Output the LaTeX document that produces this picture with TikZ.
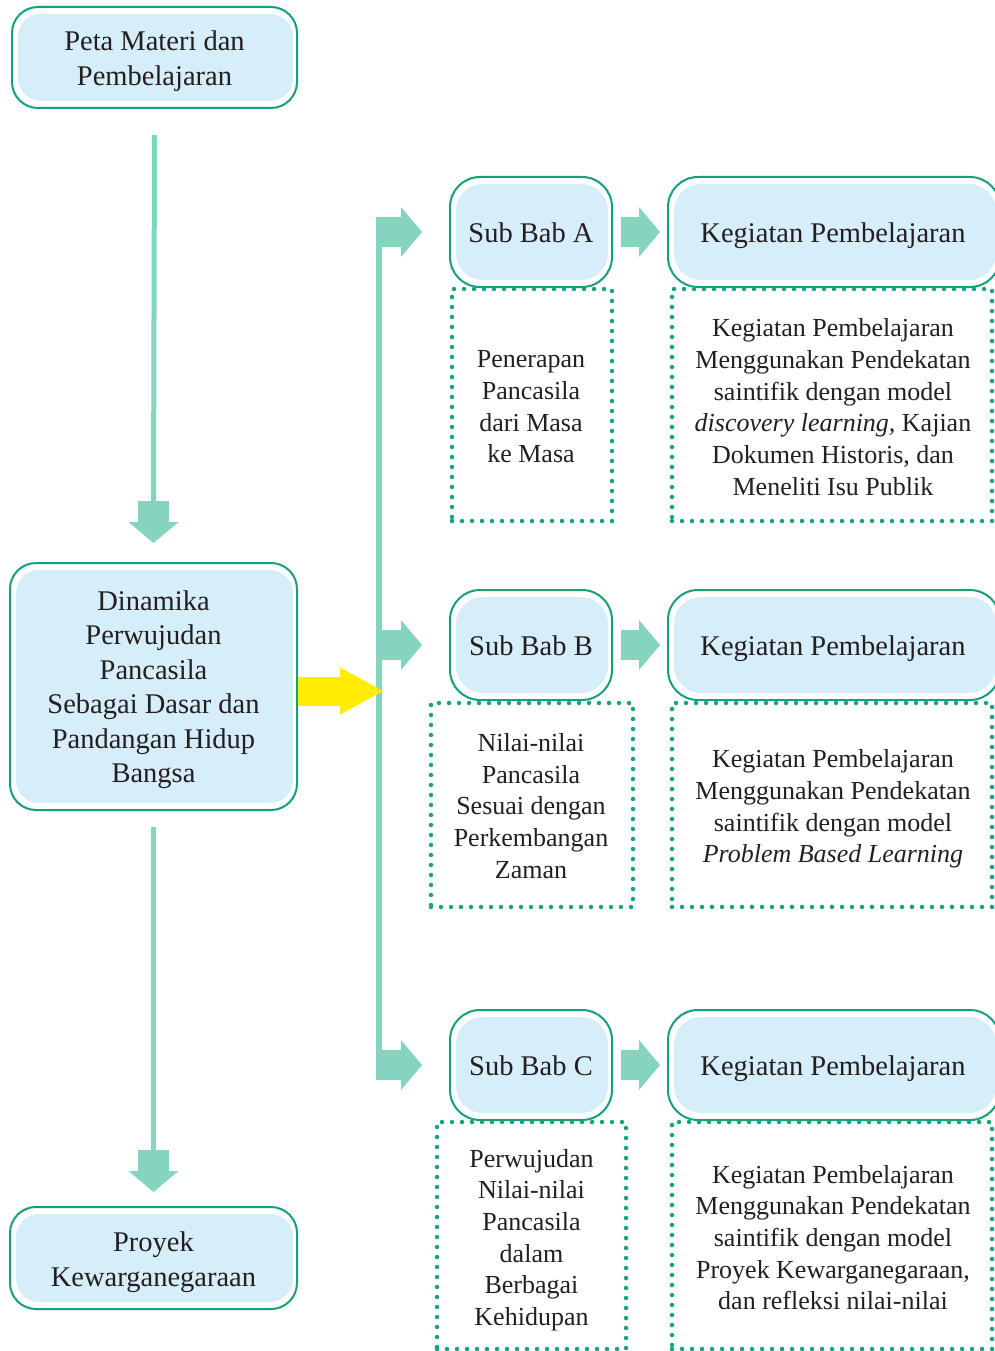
\documentclass[tikz,border=0pt]{standalone}
\usepackage{fontspec}
\setmainfont{Liberation Serif}
\usetikzlibrary{calc}
\definecolor{boxgreen}{HTML}{14A07B}
\definecolor{dotgreen}{HTML}{16A47F}
\definecolor{arrowcol}{HTML}{84D4BF}
\definecolor{boxblue}{HTML}{D6EDFA}
\definecolor{yel}{HTML}{FFEC00}
\definecolor{ink}{HTML}{231F20}
\tikzset{
  titlebox/.style={draw=boxgreen, line width=2pt, fill=white, rounded corners=#1,
    inner sep=0pt,
    path picture={\fill[boxblue, rounded corners=#1-3pt]
      ([shift={(6pt,-7pt)}]path picture bounding box.north west) rectangle
      ([shift={(-4pt,7pt)}]path picture bounding box.south east);}},
  titlebox/.default=26pt,
  titletext/.style={inner sep=0pt, align=center, text=ink,
    font=\fontsize{28.5}{34.5}\selectfont},
  dotbox/.style={draw=dotgreen, line width=4.5pt, dash pattern=on 0pt off 10pt,
    line cap=round, inner sep=0pt},
  dottext/.style={inner sep=0pt, align=center, text=ink,
    font=\fontsize{26}{31.7}\selectfont},
}
% block arrow: colour, start (same y as tip), tip, half shaft, half head, head length
\newcommand{\blockarrow}[6]{%
  \fill[#1] ($(#2)+(0,#4)$) rectangle ($(#3)+(-#6,-#4)$);
  \fill[#1] ($(#3)+(-#6,#5)$) -- ($(#3)+(-#6,-#5)$) -- (#3) -- cycle;}
% down arrow: start, tip
\newcommand{\downblock}[2]{%
  \draw[arrowcol, line width=5pt] (#1) -- ($(#2)+(0,42pt)$);
  \fill[arrowcol] ($(#2)+(-15.5pt,42pt)$) rectangle ($(#2)+(15.5pt,21pt)$);
  \fill[arrowcol] ($(#2)+(-25pt,21pt)$) -- ($(#2)+(25pt,21pt)$) -- (#2) -- cycle;}
\begin{document}
\begin{tikzpicture}[x=1pt,y=-1pt]
\useasboundingbox (0,0) rectangle (994,1351);
% left column
\node[titlebox, minimum width=285, minimum height=101] (peta) at (154.5,57.5) {};
\node[titletext] (petaT) at ([yshift=-3.5pt]peta.center) {Peta Materi dan\\Pembelajaran};
\node[titlebox, minimum width=287, minimum height=247] (din) at (153.5,686.5) {};
\node[titletext] (dinT) at ([yshift=-3pt]din.center)
  {Dinamika\\Perwujudan\\Pancasila\\Sebagai Dasar dan\\Pandangan Hidup\\Bangsa};
\node[titlebox, minimum width=287, minimum height=102] (proy) at (153.5,1258) {};
\node[titletext] (proyT) at ([yshift=-4pt]proy.center) {Proyek\\Kewarganegaraan};
% sub bab and kegiatan boxes
\foreach \s/\y in {A/232,B/645,C/1065}{
  \node[titlebox=30pt, minimum width=162, minimum height=110] (sub\s) at (531,\y) {};
  \node[titletext] (sub\s T) at ([yshift=-1pt]sub\s.center) {Sub Bab \s};
  \node[titlebox=30pt, minimum width=332, minimum height=110] (keg\s) at (834,\y) {};
  \node[titletext] (keg\s T) at ([xshift=-1pt,yshift=-4pt]keg\s.center) {Kegiatan Pembelajaran};
}
% dotted boxes
\node[dotbox, minimum width=160, minimum height=232] (dA1) at (532,405) {};
\node[dottext] (dA1T) at ([xshift=-1pt,yshift=-2pt]dA1.center)
  {Penerapan\\Pancasila\\dari Masa\\ke Masa};
\node[dotbox, minimum width=320, minimum height=232] (dA2) at (832,405) {};
\node[dottext] (dA2T) at ([xshift=1pt,yshift=-2pt]dA2.center)
  {Kegiatan Pembelajaran\\Menggunakan Pendekatan\\saintifik dengan model\\\textit{discovery learning,} Kajian\\Dokumen Historis, dan\\Meneliti Isu Publik};
\node[dotbox, minimum width=202, minimum height=204] (dB1) at (532,805) {};
\node[dottext] (dB1T) at ([xshift=-1pt,yshift=-1pt]dB1.center)
  {Nilai-nilai\\Pancasila\\Sesuai dengan\\Perkembangan\\Zaman};
\node[dotbox, minimum width=320, minimum height=204] (dB2) at (832,805) {};
\node[dottext] (dB2T) at ([xshift=1pt,yshift=-4pt]dB2.center)
  {Kegiatan Pembelajaran\\Menggunakan Pendekatan\\saintifik dengan model\\\textit{Problem Based Learning}};
\node[dotbox, minimum width=189, minimum height=227] (dC1) at (531.5,1235.5) {};
\node[dottext] (dC1T) at ([yshift=-4.5pt]dC1.center)
  {Perwujudan\\Nilai-nilai\\Pancasila\\dalam\\Berbagai\\Kehidupan};
\node[dotbox, minimum width=320, minimum height=227] (dC2) at (832,1235.5) {};
\node[dottext] (dC2T) at ([xshift=1pt,yshift=-2pt]dC2.center)
  {Kegiatan Pembelajaran\\Menggunakan Pendekatan\\saintifik dengan model\\Proyek Kewarganegaraan,\\dan refleksi nilai-nilai};
% vertical bar
\node[fill=arrowcol, inner sep=0pt, minimum width=6, minimum height=863] (bar) at (379,648.5) {};
% down arrows
\downblock{[yshift=-26pt]peta.south}{[yshift=19pt]din.north}
\downblock{[yshift=-16pt]din.south}{[yshift=14pt]proy.north}
% yellow arrow
\coordinate (ytip) at ($(bar.east |- din.east)+(1pt,-4.5pt)$);
\coordinate (ystart) at ($(din.east)+(0,-4.5pt)$);
\blockarrow{yel}{ystart}{ytip}{14.5pt}{23.5pt}{43pt}
% branch arrows
\foreach \s in {A,B,C}{
  \coordinate (bs\s) at (bar.west |- sub\s.west);
  \coordinate (bt\s) at ([xshift=-27pt]sub\s.west);
  \blockarrow{arrowcol}{bs\s}{bt\s}{15pt}{25pt}{21pt}
  \coordinate (ks\s) at ([xshift=8pt]sub\s.east);
  \coordinate (kt\s) at ([xshift=-7pt]keg\s.west);
  \blockarrow{arrowcol}{ks\s}{kt\s}{15pt}{25pt}{21pt}
}
\end{tikzpicture}
\end{document}
